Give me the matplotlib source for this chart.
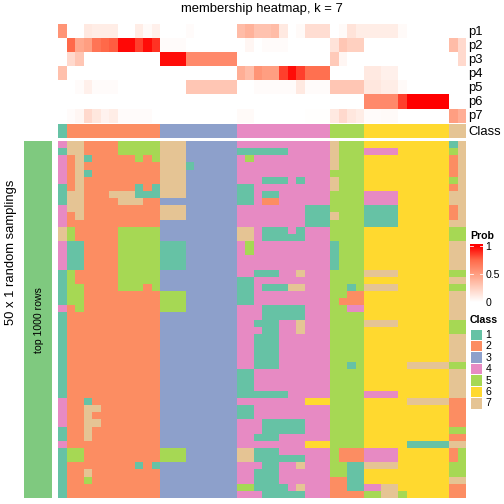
import numpy as np
import matplotlib
matplotlib.use("Agg")
import matplotlib.pyplot as plt
from matplotlib.colors import ListedColormap, LinearSegmentedColormap, BoundaryNorm

W, H = 504, 504
plt.rcParams['font.family'] = ['Liberation Sans', 'DejaVu Sans']

title = "membership heatmap, k = 7"
prob_labels = ["p1", "p2", "p3", "p4", "p5", "p6", "p7"]
class_colors = ["#66C2A5", "#FC8D62", "#8DA0CB", "#E78AC3", "#A6D854", "#FFD92F", "#E5C494"]
class_labels = ["1", "2", "3", "4", "5", "6", "7"]
column_class = "1" + "2"*11 + "3"*9 + "4"*11 + "5"*4 + "6"*10 + "7"*2

p1 = [.55,0,0,.12,.1,.1,.1,0,0,.1,.03,.08,0,0,0,.02,0,0,0,0,0,.35,.4,.32,.32,.35,.12,0,.03,.18,.18,.18,0,.03,.15,.1,.1,.1,.1,.1,.03,0,0,0,0,0,0,0]
p2 = [0,.75,.45,.5,.7,.75,.78,.98,.98,.85,.97,.88,.02,.02,.02,0,0,0,0,0,0,0,.05,0,.02,.02,.02,0,0,0,0,0,.15,.3,.25,.25,0,0,0,0,0,0,0,0,0,0,.35,.2]
p3 = [0,.2,.3,0,0,0,0,0,0,0,0,0,.97,.97,.97,.6,.6,.6,.6,.6,.6,0,0,0,0,0,0,0,0,0,0,0,.28,.05,0,0,0,0,0,0,0,0,0,0,0,0,0,.2]
p4 = [.33,0,0,0,0,0,0,0,0,0,0,0,0,0,0,0,0,0,0,0,0,.42,.35,.55,.5,.5,.85,.97,.85,.72,.72,.72,0,0,0,0,.12,.12,.08,.08,0,0,0,0,0,0,0,0]
p5 = [0,0,.02,.08,.02,.02,.02,0,0,0,0,0,0,0,0,.3,.3,.3,.3,.3,.3,0,0,.02,.02,.02,.02,.02,.12,.02,.02,.02,.3,.3,.3,.3,.13,.13,.1,.1,.03,0,0,0,0,0,0,0]
p6 = [0,0,0,0,0,0,0,0,0,0,0,0,0,0,0,0,0,0,0,0,0,0,0,0,0,0,0,0,0,0,0,0,0,0,0,0,.6,.6,.6,.6,.85,1,1,1,1,1,0,0]
p7 = [0,.02,.05,.2,.13,.07,.1,.02,.02,.02,.02,0,0,0,0,0,0,0,0,0,0,.03,.03,0,0,0,0,0,0,.01,.01,.01,.12,.2,.13,.1,.02,.02,.03,.03,0,0,0,0,0,0,.5,.42]

T2 = "2"*11
T3 = "3"*9
F5 = "5555"
S6 = "6"*10
rows = [
 "4"+"77222255555"+"777333333"+"44444444444"+"7555"+S6+"17",
 "1"+"77222255555"+"777333333"+"11111144444"+"7555"+"4444666666"+"57",
 "4"+"27122222525"+"777333333"+"45444444444"+"7555"+S6+"27",
 "4"+"27222222222"+"777133333"+"44444444444"+"7555"+S6+"27",
 "4"+"27122222222"+"777333333"+"44444444444"+F5+S6+"27",
 "4"+"27222222222"+"777333333"+"44411141444"+"7555"+S6+"57",
 "1"+"27222222121"+"777333333"+"11444444444"+"7555"+S6+"27",
 "1"+"77222777111"+"777333333"+"11411444444"+F5+"4444666666"+"77",
 "1"+"77222277722"+T3+"11422444444"+F5+"4444666666"+"77",
 "4"+"77222222222"+"777333333"+"44444444111"+F5+"1111666666"+"27",
 "4"+"27222222222"+"777333333"+"44444444111"+"7555"+"1111666666"+"27",
 "4"+T2+T3+"44444444111"+F5+"1111666666"+"77",
 "7"+"52222255555"+T3+"77411141444"+F5+S6+"55",
 "7"+"52222255555"+T3+"77411111444"+F5+S6+"55",
 "4"+"11222255555"+"111333333"+"45444444444"+"1555"+S6+"77",
 "4"+"11222255555"+"111333333"+"45444444444"+"1555"+S6+"77",
 "4"+"11222255555"+"111333333"+"44444444444"+"1555"+S6+"77",
 "4"+"11222255555"+"111333333"+"44444444444"+"1555"+S6+"77",
 "1"+"52222255555"+T3+"44111447444"+F5+"7777666666"+"55",
 "1"+"52222255555"+T3+"11444444444"+F5+S6+"77",
 "1"+"55222255525"+T3+"11411177444"+"5515"+"7777666666"+"55",
 "1"+"55222222222"+"555333333"+"11444444444"+"5522"+S6+"77",
 "1"+"55222222222"+"555333333"+"11444444444"+"5222"+S6+"77",
 "4"+"25222222222"+"555333333"+"44411111444"+"5544"+S6+"77",
 "1"+T2+T3+"44411111444"+F5+S6+"77",
 "1"+T2+T3+"44111447444"+F5+"7777666666"+"55",
 "1"+T2+T3+"44411447444"+F5+S6+"55",
 "1"+T2+T3+"44111444444"+F5+S6+"77",
 "1"+T2+T3+"44111444444"+F5+S6+"77",
 "1"+T2+T3+"44111444444"+F5+S6+"77",
 "1"+T2+T3+"44111444444"+F5+S6+"77",
 "1"+T2+T3+"44111444444"+"5515"+"6666677777"+"55",
 "1"+T2+T3+"11444444444"+F5+S6+"77",
 "1"+T2+T3+"11444444444"+F5+S6+"77",
 "1"+T2+T3+"11444444444"+F5+S6+"77",
 "1"+T2+T3+"11111144444"+F5+"4444666666"+"77",
 "4"+"22122222222"+T3+"44444444666"+F5+"6666677777"+"22",
 "4"+"22772222222"+T3+"11444444444"+F5+S6+"22",
 "4"+"22722222222"+T3+"11444444444"+F5+S6+"22",
 "4"+"22772222222"+T3+"44411111444"+F5+S6+"22",
 "1"+"22722222222"+T3+"44411111444"+F5+S6+"55",
 "1"+"22722222222"+T3+"44111444444"+F5+S6+"22",
 "4"+T2+T3+"44444444666"+F5+"6666611111"+"77",
 "1"+"55222222222"+"555333333"+"77111444444"+"5222"+"4444666666"+"25",
 "1"+"55222222222"+"555333333"+"77111111444"+"5222"+"4444666666"+"25",
 "1"+"22222222121"+T3+"44411447444"+"5511"+"7777666666"+"55",
 "1"+"22722222222"+T3+"44111444444"+"5511"+S6+"55",
 "1"+"22522222222"+T3+"44111444444"+"2211"+S6+"77",
 "1"+T2+T3+"55111147444"+"2211"+"4477666666"+"22",
 "1"+T2+T3+"44411111444"+"2222"+"5577566666"+"22",
]

fig = plt.figure(figsize=(W/72, H/72), dpi=72, facecolor="white")

def axpx(x0, y0, x1, y1):
    a = fig.add_axes([x0/W, 1-y1/H, (x1-x0)/W, (y1-y0)/H])
    a.set_axis_off()
    return a

def ftext(x, y, s, **kw):
    kw.setdefault("va", "center")
    kw.setdefault("color", "black")
    fig.text(x/W, 1-y/H, s, **kw)

prob_cmap = LinearSegmentedColormap.from_list(
    "prob", ["#FFFFFF", "#FFD0C0", "#FF9E81", "#FF6A4A", "#FF0000"])
class_cmap = ListedColormap(class_colors)
class_norm = BoundaryNorm(np.arange(0.5, 8.5), 7)

X0, X1 = 58, 466

# probabilities
ax = axpx(X0, 24, X1, 122.7)
ax.pcolormesh(np.array([p1, p2, p3, p4, p5, p6, p7]), cmap=prob_cmap, vmin=0, vmax=1)
ax.invert_yaxis()

# column class strip
ax = axpx(X0, 124, X1, 138)
ax.pcolormesh(np.array([[int(c) for c in column_class]]), cmap=class_cmap, norm=class_norm)

# main heatmap
ax = axpx(X0, 141, X1, 498)
ax.pcolormesh(np.array([[int(c) for c in r] for r in rows]), cmap=class_cmap, norm=class_norm)
ax.invert_yaxis()

# left strip
ax = axpx(24, 141, 52, 498)
ax.pcolormesh(np.ones((50, 1)), cmap=ListedColormap(["#7FC97F"]), vmin=0, vmax=2)

ftext(262, 9, title, ha="center", fontsize=13)
for i, lab in enumerate(prob_labels):
    ftext(468, 32 + i*14, lab, ha="left", fontsize=13)
ftext(468, 132, "Class", ha="left", fontsize=13)
ftext(11, 252.5, "50 x 1 random samplings", rotation=90, ha="center", fontsize=13)
ftext(39, 320, "top 1000 rows", rotation=90, ha="center", fontsize=10.5)

# probability legend
ftext(470, 236, "Prob", ha="left", fontsize=10.5, fontweight="bold")
cax = axpx(470, 244, 482.5, 302)
cax.imshow(np.linspace(58/56, 0, 256).reshape(-1, 1), cmap=prob_cmap, vmin=0, vmax=1,
           aspect="auto", extent=[0, 1, 0, 58/56])
cax.set_xlim(0, 1); cax.set_ylim(0, 58/56)
for tick, lab in zip([0.0, 0.5, 1.0], ["0", "0.5", "1"]):
    cax.plot([0, .2], [tick, tick], color="white", lw=.8)
    cax.plot([.8, 1], [tick, tick], color="white", lw=.8)
    ftext(485.5, 302 - tick*56 + .5, lab, ha="left", fontsize=10.5)

# class legend
ftext(470, 320, "Class", ha="left", fontsize=10.5, fontweight="bold")
box_h = 11.45
lax = axpx(470, 328.5, 482, 328.5 + 7*box_h)
lax.pcolormesh(np.arange(1, 8).reshape(-1, 1), cmap=class_cmap, norm=class_norm,
               edgecolors="white", linewidth=.8)
lax.invert_yaxis()
for i, lab in enumerate(class_labels):
    ftext(485.5, 328.5 + (i+.5)*box_h + .5, lab, ha="left", fontsize=10.5)

fig.savefig("out.png", dpi=72, facecolor="white")
